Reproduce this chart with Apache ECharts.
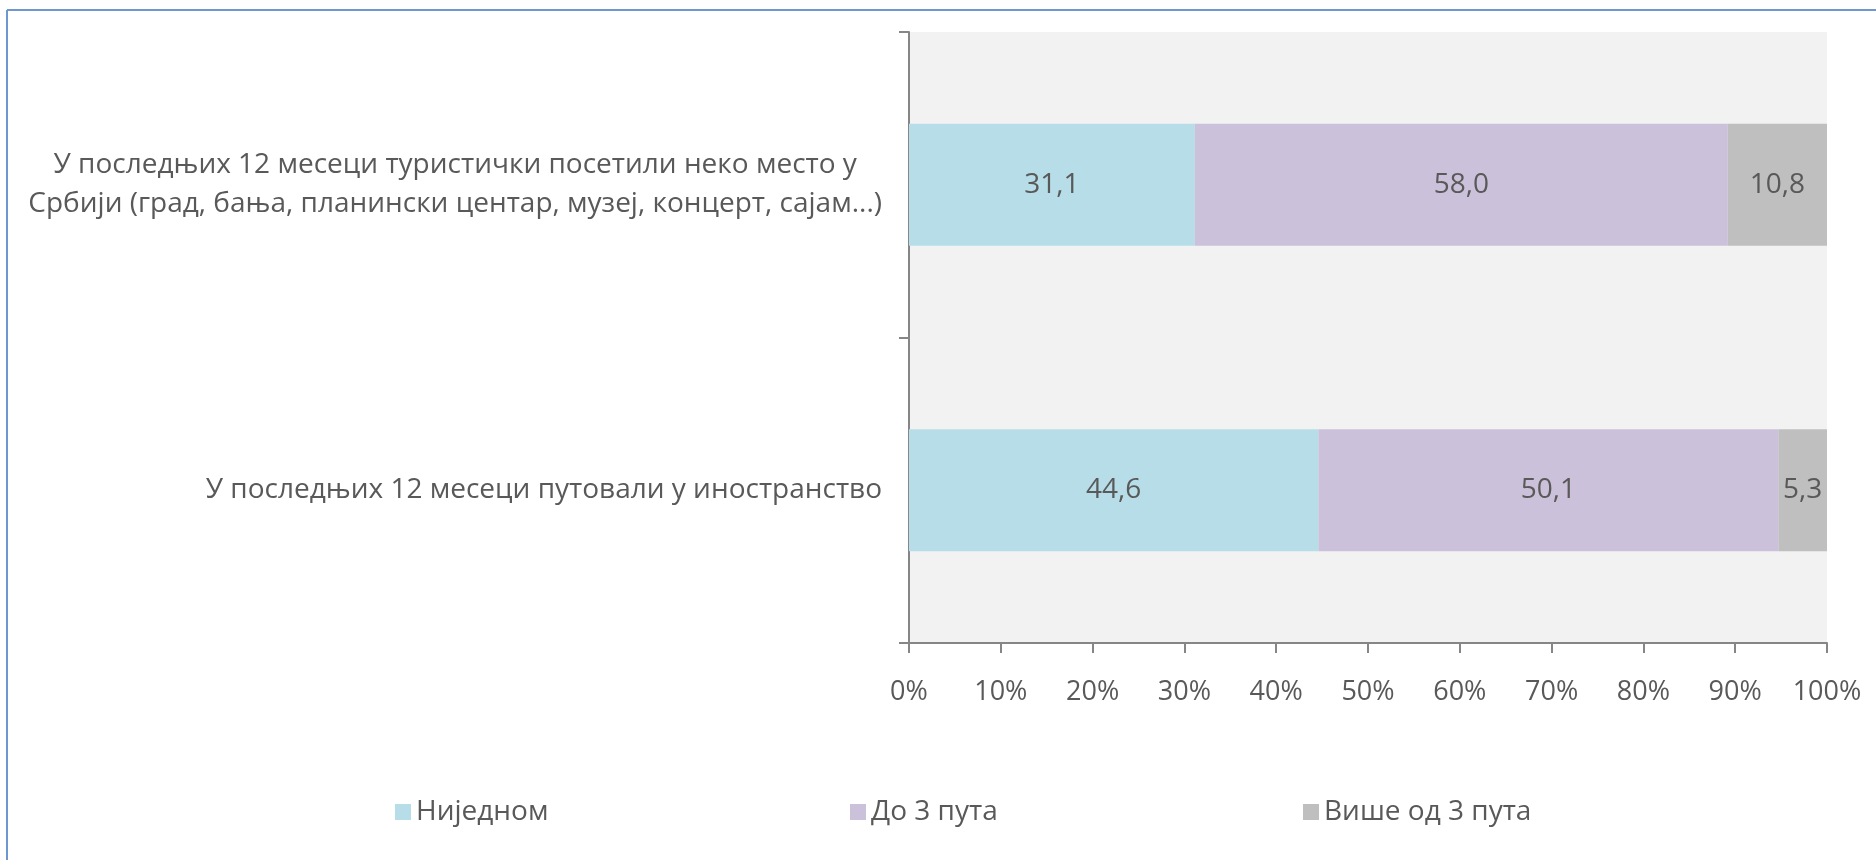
<!DOCTYPE html>
<html>
<head>
<meta charset="utf-8">
<script src="https://cdn.jsdelivr.net/npm/echarts@6/dist/echarts.min.js"></script>
<style>
html,body{margin:0;padding:0;background:#fff;}
#chart{width:1876px;height:860px;}
</style>
</head>
<body>
<div id="chart"></div>
<script>
// Categories (top to bottom)
const categories = [
  ['У последњих 12 месеци туристички посетили неко место у', 'Србији (град, бања, планински центар, музеј, концерт, сајам...)'],
  ['У последњих 12 месеци путовали у иностранство']
];
const seriesNames = ['Ниједном', 'До 3 пута', 'Више од 3 пута'];
const noneValues = [31.1, 44.6];
const upTo3Values = [58.0, 50.1];
const moreThan3Values = [10.8, 5.3];
const xTicks = [0, 10, 20, 30, 40, 50, 60, 70, 80, 90, 100];

const colors = ['#B7DDE8', '#CCC1DA', '#BFBFBF'];
const textColor = '#595959';
const FONT = '"Open Sans", sans-serif';

const raw = [noneValues, upTo3Values, moreThan3Values];
const totals = categories.map((c, i) => raw.reduce((s, arr) => s + arr[i], 0));

const catKeys = categories.map((c, i) => 'c' + i);

const series = raw.map((vals, si) => ({
  name: seriesNames[si],
  type: 'bar',
  stack: 'total',
  barWidth: '40%',
  itemStyle: { color: colors[si] },
  label: {
    show: true,
    position: 'inside',
    color: textColor,
    fontFamily: FONT,
    fontSize: 28,
    formatter: p => vals[p.dataIndex].toFixed(1).replace('.', ',')
  },
  emphasis: { disabled: true },
  data: vals.map((v, i) => v / totals[i] * 100)
}));

const legendLefts = [390, 845, 1298];
const legends = seriesNames.map((n, i) => ({
  data: [n],
  left: legendLefts[i],
  top: 793,
  icon: 'rect',
  itemWidth: 16,
  itemHeight: 16,
  selectedMode: false,
  textStyle: { color: textColor, fontFamily: FONT, fontSize: 28 }
}));

const chart = echarts.init(document.getElementById('chart'), null, { renderer: 'canvas' });
chart.setOption({
  animation: false,
  backgroundColor: '#fff',
  textStyle: { fontFamily: FONT },
  grid: {
    left: 909, top: 32, width: 918, height: 611,
    show: true, backgroundColor: '#F2F2F2', borderWidth: 0
  },
  legend: legends,
  xAxis: {
    type: 'value',
    min: xTicks[0],
    max: xTicks[xTicks.length - 1],
    interval: 10,
    axisLine: { show: true, lineStyle: { color: '#868686', width: 2 } },
    axisTick: { show: true, length: 10, lineStyle: { color: '#868686', width: 2 } },
    splitLine: { show: false },
    axisLabel: {
      color: textColor, fontFamily: FONT, fontSize: 27, margin: 36,
      formatter: v => v + '%'
    }
  },
  yAxis: {
    type: 'category',
    inverse: true,
    data: catKeys,
    axisLine: { show: true, lineStyle: { color: '#868686', width: 2 } },
    axisTick: { show: true, length: 10, lineStyle: { color: '#868686', width: 2 } },
    axisLabel: {
      margin: 27,
      color: textColor,
      fontFamily: FONT,
      fontSize: 28,
      lineHeight: 39,
      formatter: (v, i) => categories[i].map(l => '{a|' + l + '}').join('\n'),
      rich: { a: { align: 'center', color: textColor, fontFamily: FONT, fontSize: 28, lineHeight: 39 } }
    }
  },
  graphic: [
    { type: 'line', shape: { x1: 7, y1: 10, x2: 1876, y2: 10 }, style: { stroke: '#6F97CF', lineWidth: 2 } },
    { type: 'line', shape: { x1: 7, y1: 10, x2: 7, y2: 860 }, style: { stroke: '#6F97CF', lineWidth: 2 } }
  ],
  series: series
});
</script>
</body>
</html>
